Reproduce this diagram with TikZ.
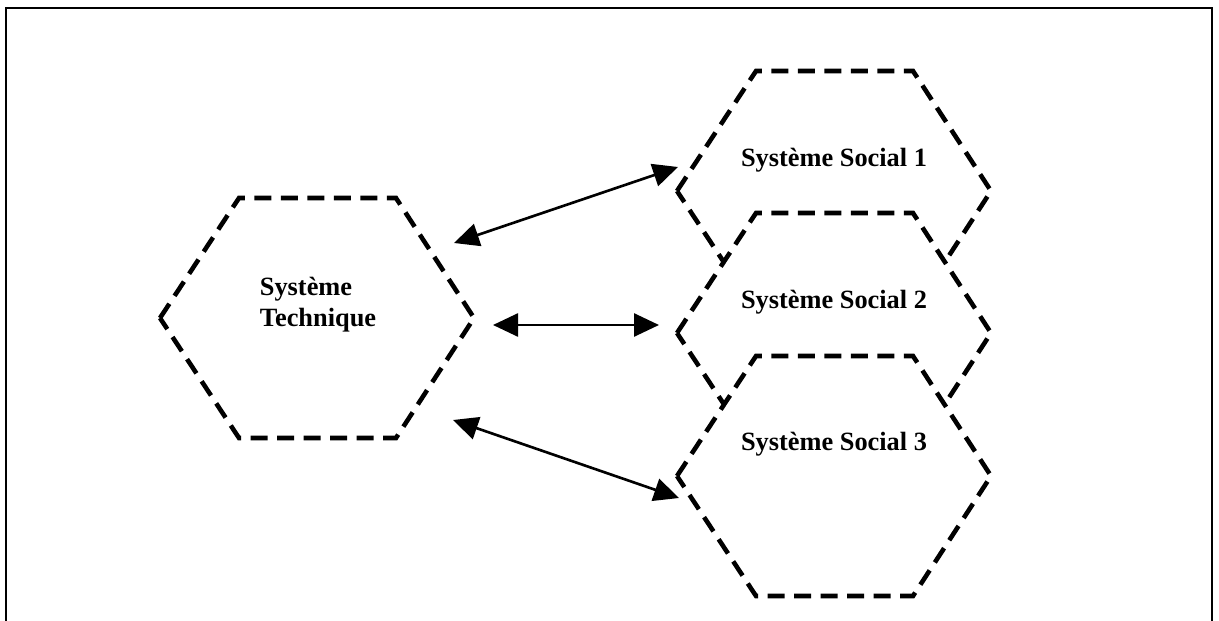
\documentclass[tikz,border=0pt]{standalone}
\usepackage{fontspec}
\setmainfont{Liberation Serif}
\usetikzlibrary{arrows.meta,calc}

% hexagone aplati autour d'un centre
\newcommand{\hexagone}[1]{%
  \draw[hexa] ($(#1)+(-157,0)$) -- ++(79,-120) -- ++(157,0) -- ++(78,120)
    -- ++(-78,120) -- ++(-157,0) -- cycle;}

\begin{document}
\begin{tikzpicture}[x=0.02cm, y=-0.02cm,
  hexa/.style={fill=white, line width=2.6pt, dash pattern=on 0.34cm off 0.19cm},
  txt/.style={font=\bfseries\fontsize{15}{17.5}\selectfont, inner sep=0pt},
  arr/.style={{Triangle[length=0.5cm,width=0.46cm]}-{Triangle[length=0.5cm,width=0.46cm]},
              line width=1.5pt}
]
  \useasboundingbox (0,0) rectangle (1219,621);
  \draw[line width=1.2pt] (6,621) -- (6,8) -- (1212,8) -- (1212,621);

  \coordinate (ctech) at (317,318);
  \coordinate (csoc1) at (834,191);
  \coordinate (csoc2) at (834,333);
  \coordinate (csoc3) at (834,476);

  \hexagone{ctech}
  \hexagone{csoc1}
  \hexagone{csoc2}
  \hexagone{csoc3}

  \node[txt, align=left] (tech) at (318,305) {Système\\Technique};
  \node[txt] (soc1) at (834,160) {Système Social 1};
  \node[txt] (soc2) at (834,302) {Système Social 2};
  \node[txt] (soc3) at (834,444) {Système Social 3};

  % extremites des fleches
  \coordinate (t1) at (454,243);
  \coordinate (t2) at (493,325);
  \coordinate (t3) at (453,420);
  \coordinate (s1) at (678,167);
  \coordinate (s2) at (659,325);
  \coordinate (s3) at (679,498);

  \draw[arr] (t1) -- (s1);
  \draw[arr] (t2) -- (s2);
  \draw[arr] (t3) -- (s3);
\end{tikzpicture}
\end{document}
